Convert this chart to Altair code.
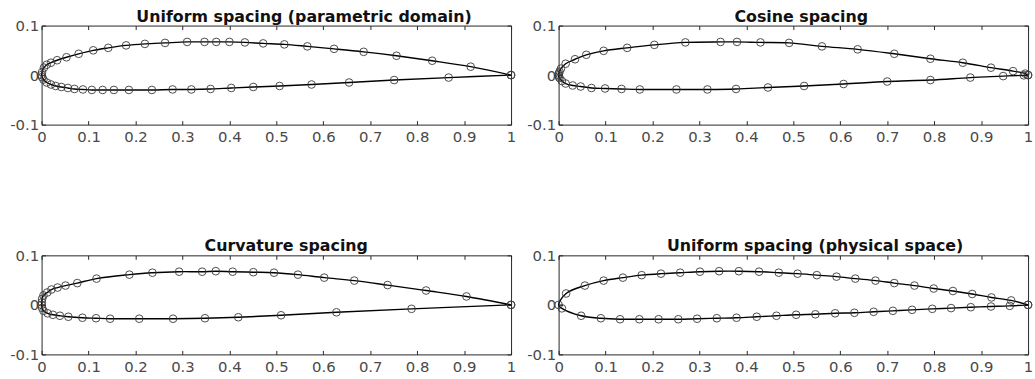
import altair as alt
import pandas as pd

titles = ["Uniform spacing (parametric domain)", "Cosine spacing",
          "Curvature spacing", "Uniform spacing (physical space)"]
title_dx = [28, 8, 10, 22]
x_ticks = [0, 0.1, 0.2, 0.3, 0.4, 0.5, 0.6, 0.7, 0.8, 0.9, 1]
y_ticks = [-0.1, 0, 0.1]

# Panel 1: uniform spacing in the parametric domain (leading edge -> trailing edge)
p1_upper_x = [0.0, 0.001, 0.005, 0.011, 0.020, 0.033, 0.053, 0.079, 0.110, 0.142, 0.180, 0.220, 0.263,
              0.310, 0.347, 0.372, 0.400, 0.433, 0.472, 0.517, 0.566, 0.623, 0.686, 0.756, 0.832, 0.914, 1.0]
p1_upper_y = [0.0, 0.006, 0.015, 0.021, 0.025, 0.030, 0.036, 0.043, 0.050, 0.055, 0.060, 0.063, 0.065,
              0.067, 0.067, 0.067, 0.067, 0.066, 0.064, 0.062, 0.058, 0.053, 0.047, 0.039, 0.029, 0.017, 0.0]
p1_lower_x = [0.001, 0.004, 0.011, 0.020, 0.030, 0.042, 0.056, 0.070, 0.088, 0.107, 0.130, 0.154, 0.186,
              0.235, 0.279, 0.319, 0.360, 0.404, 0.451, 0.507, 0.575, 0.655, 0.751, 0.867, 1.0]
p1_lower_y = [-0.004, -0.009, -0.015, -0.019, -0.022, -0.024, -0.026, -0.028, -0.029, -0.030, -0.030, -0.030,
              -0.030, -0.030, -0.029, -0.029, -0.028, -0.026, -0.024, -0.022, -0.019, -0.015, -0.010, -0.005, 0.0]

# Panel 2: cosine spacing
p2_upper_x = [0.0, 0.0005, 0.002, 0.005, 0.015, 0.035, 0.059, 0.096, 0.146, 0.204, 0.270, 0.345, 0.380,
              0.430, 0.491, 0.561, 0.637, 0.715, 0.792, 0.861, 0.921, 0.968, 0.994, 1.0]
p2_upper_y = [0.0, 0.003, 0.007, 0.013, 0.023, 0.032, 0.041, 0.049, 0.055, 0.061, 0.066, 0.067, 0.067,
              0.066, 0.065, 0.058, 0.052, 0.043, 0.033, 0.025, 0.015, 0.008, 0.003, 0.0]
p2_lower_x = [0.0005, 0.002, 0.007, 0.015, 0.030, 0.047, 0.070, 0.099, 0.134, 0.173, 0.251, 0.317, 0.378,
              0.446, 0.523, 0.607, 0.700, 0.792, 0.877, 0.947, 0.991, 1.0]
p2_lower_y = [-0.003, -0.006, -0.012, -0.017, -0.021, -0.023, -0.026, -0.027, -0.028, -0.029, -0.029, -0.029,
              -0.028, -0.025, -0.022, -0.018, -0.013, -0.010, -0.005, -0.002, -0.0005, 0.0]

# Panel 3: curvature spacing
p3_upper_x = [0.0, 0.0005, 0.001, 0.004, 0.012, 0.021, 0.034, 0.051, 0.076, 0.117, 0.187, 0.236, 0.293,
              0.342, 0.371, 0.407, 0.451, 0.495, 0.546, 0.602, 0.666, 0.737, 0.819, 0.905, 1.0]
p3_upper_y = [0.0, 0.005, 0.012, 0.019, 0.025, 0.031, 0.035, 0.039, 0.044, 0.053, 0.061, 0.065, 0.067,
              0.067, 0.068, 0.067, 0.066, 0.065, 0.061, 0.055, 0.049, 0.040, 0.029, 0.017, 0.0]
p3_lower_x = [0.001, 0.004, 0.013, 0.024, 0.039, 0.057, 0.087, 0.116, 0.146, 0.208, 0.280, 0.348, 0.419,
              0.510, 0.628, 0.788, 1.0]
p3_lower_y = [-0.006, -0.012, -0.017, -0.020, -0.022, -0.024, -0.026, -0.027, -0.028, -0.028, -0.028, -0.027,
              -0.025, -0.021, -0.015, -0.008, 0.0]

# Panel 4: uniform spacing in physical space
p4_upper_x = [0.0, 0.016, 0.056, 0.096, 0.137, 0.177, 0.218, 0.259, 0.301, 0.342, 0.384, 0.427, 0.469,
              0.509, 0.550, 0.592, 0.632, 0.675, 0.715, 0.758, 0.799, 0.840, 0.881, 0.922, 0.964, 1.0]
p4_upper_y = [0.0, 0.023, 0.039, 0.049, 0.055, 0.060, 0.063, 0.065, 0.067, 0.068, 0.068, 0.067, 0.065,
              0.063, 0.060, 0.057, 0.053, 0.049, 0.044, 0.039, 0.033, 0.028, 0.022, 0.015, 0.009, 0.0]
p4_lower_x = [0.007, 0.048, 0.090, 0.131, 0.172, 0.213, 0.255, 0.295, 0.337, 0.379, 0.422, 0.464, 0.506,
              0.547, 0.589, 0.630, 0.671, 0.712, 0.753, 0.796, 0.836, 0.878, 0.921, 0.961, 1.0]
p4_lower_y = [-0.007, -0.022, -0.027, -0.029, -0.029, -0.029, -0.029, -0.028, -0.027, -0.026, -0.024, -0.022,
              -0.020, -0.019, -0.017, -0.016, -0.014, -0.012, -0.010, -0.008, -0.0065, -0.0047, -0.0033,
              -0.002, 0.0]

W, H = 474, 100
AX = "#262626"
FONT = "DejaVu Sans"


def panel(ux, uy, lx, ly, title, dx):
    xs = list(reversed(ux)) + list(lx)
    ys = list(reversed(uy)) + list(ly)
    df = pd.DataFrame({"x": xs, "y": ys, "i": list(range(len(xs)))})
    xenc = alt.X("x:Q", title=None,
                 scale=alt.Scale(domain=[0, 1], nice=False, zero=False),
                 axis=alt.Axis(values=x_ticks, labelExpr="'' + datum.value", labelFlush=False,
                               labelOverlap=False, ticks=False, domain=False, grid=True,
                               gridDash=[4, H - 8], gridColor=AX, gridWidth=1, gridOpacity=1,
                               labelFont=FONT, labelFontSize=15, labelColor="#4a4a4a",
                               labelPadding=5))
    yenc = alt.Y("y:Q", title=None,
                 scale=alt.Scale(domain=[-0.1, 0.1], nice=False, zero=False),
                 axis=alt.Axis(values=y_ticks, labelExpr="'' + datum.value", labelFlush=False,
                               labelOverlap=False, ticks=False, domain=False, grid=True,
                               gridDash=[4, W - 8], gridColor=AX, gridWidth=1, gridOpacity=1,
                               labelFont=FONT, labelFontSize=15, labelColor="#4a4a4a",
                               labelPadding=3))
    base = alt.Chart(df)
    line = base.mark_line(color="black", strokeWidth=1.4, interpolate="catmull-rom").encode(
        x=xenc, y=yenc, order="i:Q")
    pts = base.mark_point(shape="circle", size=60, filled=False, color="#3a3a3a",
                          strokeWidth=1.0, opacity=0.9).encode(x=xenc, y=yenc)
    return alt.layer(line, pts).properties(
        width=W, height=H,
        title=alt.TitleParams(title, font=FONT, fontSize=16, fontWeight="bold", color="#111111",
                              anchor="middle", dx=dx, dy=8, offset=2))


c1 = panel(p1_upper_x, p1_upper_y, p1_lower_x, p1_lower_y, titles[0], title_dx[0])
c2 = panel(p2_upper_x, p2_upper_y, p2_lower_x, p2_lower_y, titles[1], title_dx[1])
c3 = panel(p3_upper_x, p3_upper_y, p3_lower_x, p3_lower_y, titles[2], title_dx[2])
c4 = panel(p4_upper_x, p4_upper_y, p4_lower_x, p4_lower_y, titles[3], title_dx[3])

chart = alt.vconcat(
    alt.hconcat(c1, c2, spacing=8),
    alt.hconcat(c3, c4, spacing=8),
    spacing=93,
).properties(
    padding={"left": 9, "top": 6, "right": 0, "bottom": 0},
    background="white",
).configure_view(stroke=AX, strokeWidth=1)

chart.save("out.html", embed_options={"renderer": "svg", "actions": False})
